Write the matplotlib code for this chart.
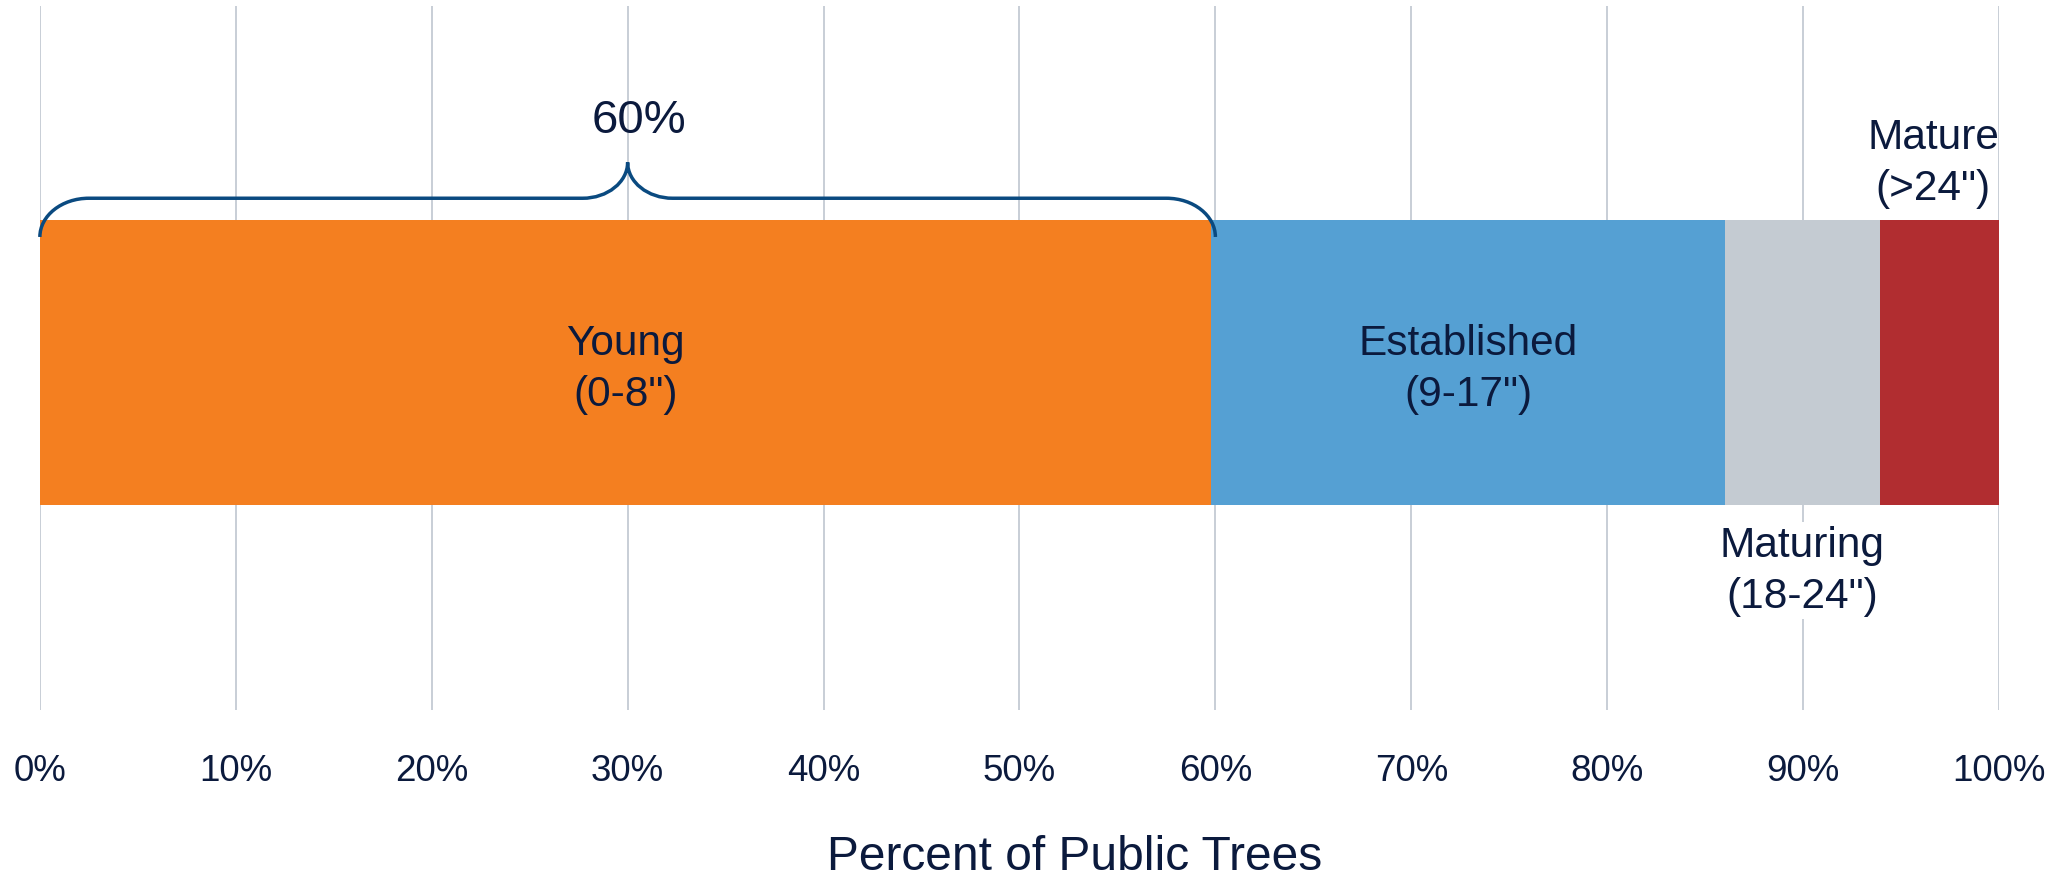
import matplotlib
matplotlib.use('Agg')
import matplotlib.pyplot as plt
from matplotlib.path import Path
from matplotlib.patches import PathPatch

plt.rcParams['font.family'] = ['Liberation Sans', 'DejaVu Sans']

# data (percent of public trees by size class)
classes = ['Young', 'Established', 'Maturing', 'Mature']
ranges = ['(0-8")', '(9-17")', '(18-24")', '(>24")']
shares = [59.8, 26.2, 7.9, 6.1]
colors = ['#f47f20', '#55a0d3', '#c4cbd2', '#b12d30']
ticks = [0, 10, 20, 30, 40, 50, 60, 70, 80, 90, 100]
brace_total = 60

txt = '#0b1a3d'

fig = plt.figure(figsize=(20.66, 8.79), dpi=100)
ax = fig.add_axes([0.0193, 0.191, 0.9483, 0.801])
ax.set_xlim(0, 100)
ax.set_ylim(0, 1)

for x in ticks:
    ax.axvline(x, color='#c8ced6', lw=1.4, zorder=0)

left = 0
for name, rng, val, col in zip(classes, ranges, shares, colors):
    ax.barh(0.4935, val, left=left, height=0.405, color=col, zorder=2)
    mid = left + val / 2
    label = name + '\n' + rng
    if name in ('Young', 'Established'):
        ax.text(mid, 0.485, label, ha='center', va='center', fontsize=30.5,
                color=txt, linespacing=1.36, zorder=3)
    elif name == 'Maturing':
        ax.text(mid, 0.198, label, ha='center', va='center', fontsize=30.5,
                color=txt, linespacing=1.36, zorder=3,
                bbox=dict(facecolor='white', edgecolor='none', pad=2))
    else:
        ax.text(mid - 0.3, 0.778, label, ha='center', va='center', fontsize=30.5,
                color=txt, linespacing=1.36, zorder=3)
    left += val

# curly brace over the young trees
k = 0.552
y0, y1, y2 = 0.672, 0.727, 0.778
cw, tw = 2.5, 2.3
m = brace_total / 2
e = brace_total
verts = [
    (0, y0), (0, y0 + k * (y1 - y0)), (cw - k * cw, y1), (cw, y1),
    (m - tw, y1),
    (m - tw + k * tw, y1), (m, y2 - k * (y2 - y1)), (m, y2),
    (m, y2 - k * (y2 - y1)), (m + tw - k * tw, y1), (m + tw, y1),
    (e - cw, y1),
    (e - cw + k * cw, y1), (e, y0 + k * (y1 - y0)), (e, y0),
]
codes = [Path.MOVETO, Path.CURVE4, Path.CURVE4, Path.CURVE4,
         Path.LINETO,
         Path.CURVE4, Path.CURVE4, Path.CURVE4,
         Path.CURVE4, Path.CURVE4, Path.CURVE4,
         Path.LINETO,
         Path.CURVE4, Path.CURVE4, Path.CURVE4]
ax.add_patch(PathPatch(Path(verts, codes), facecolor='none', edgecolor='#0a4a80',
                       lw=2.5, zorder=4, clip_on=False))
ax.text(m + 0.6, 0.838, '%d%%' % brace_total, ha='center', va='center',
        fontsize=34, color=txt)

ax.set_xticks(ticks)
ax.set_xticklabels(['%d%%' % t for t in ticks])
ax.tick_params(axis='x', length=0, pad=31, labelsize=26.5, labelcolor=txt)
ax.set_yticks([])
for s in ax.spines.values():
    s.set_visible(False)
ax.set_xlabel('Percent of Public Trees', fontsize=34.5, color=txt, labelpad=33)
ax.xaxis.label.set_x(0.528)

fig.savefig('out.png', dpi=100)
